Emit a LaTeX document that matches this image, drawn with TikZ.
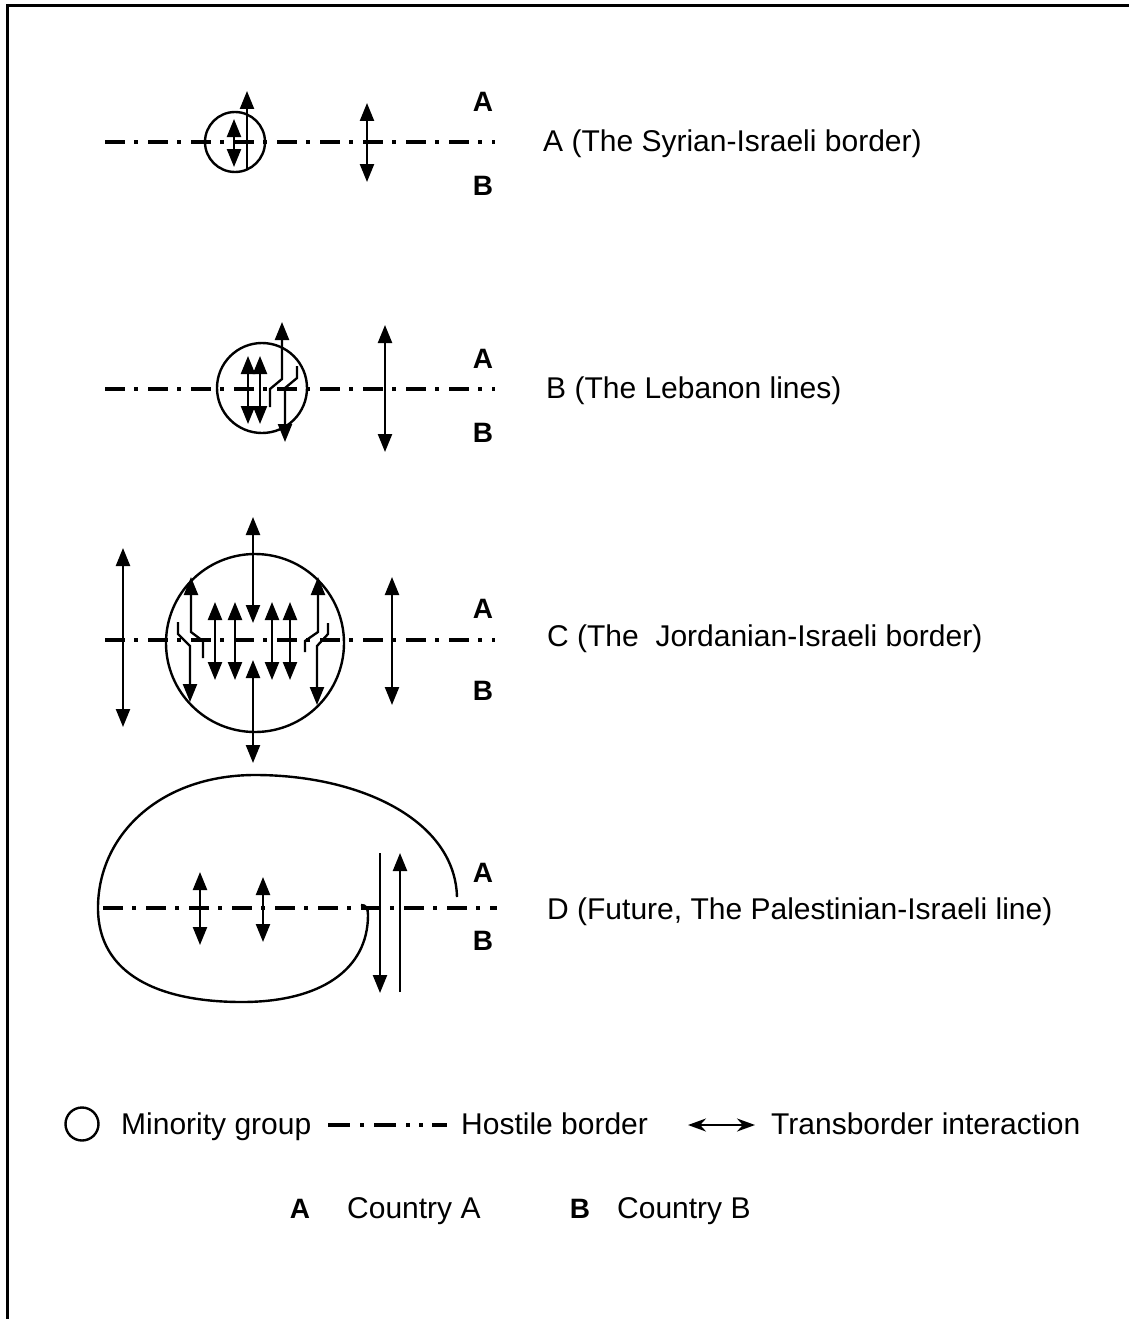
\documentclass[tikz,border=0pt]{standalone}
\usepackage{fontspec}
\setmainfont{Liberation Sans}
\usetikzlibrary{arrows.meta}
\begin{document}
\begin{tikzpicture}[x=1pt,y=-1pt,
  >={Triangle[length=18pt,width=14pt]},
  bord/.style={line width=3.6pt, dash pattern=on 20pt off 9pt on 4pt off 10pt},
  ia/.style={line width=2.3pt, <->},
  ua/.style={line width=2.3pt, ->},
  grp/.style={line width=2.4pt},
  grpnode/.style={grp, draw, circle, inner sep=0pt},
  lab/.style={font=\fontsize{30}{36}\selectfont, anchor=base west, inner sep=0pt},
  ctry/.style={font=\bfseries\fontsize{28}{32}\selectfont, anchor=base, inner sep=0pt}]
\useasboundingbox (0,0) rectangle (1129,1319);
% frame
\draw[line width=3pt] (1129,6) -- (7,6) -- (7,1319);

% ---- Section A
\draw[bord] (105,142) -- (495,142);
\node[grpnode, minimum size=60pt] (mA) at (235,142) {};
\draw[ia] (234,119) -- (234,167);
\draw[ua] (247,170) -- (247,91);
\draw[ia] (367,103) -- (367,182);
\node[ctry] (aA) at (483,112) {A};
\node[ctry] (aB) at (483,195) {B};
\node[lab] (tA) at (543,151) {A (The Syrian-Israeli border)};

% ---- Section B
\draw[bord] (105,389) -- (495,389);
\node[grpnode, minimum size=90pt] (mB) at (262,388) {};
\draw[ia] (248,356) -- (248,424);
\draw[ia] (260,356) -- (260,424);
\draw[ua] (270,407) -- (270,389) -- (282,379) -- (282,322);
\draw[ua] (297,366) -- (297,378) -- (285,388) -- (285,442);
\draw[ia] (385,325) -- (385,452);
\node[ctry] (bA) at (483,368) {A};
\node[ctry] (bB) at (483,442) {B};
\node[lab] (tB) at (546,398) {B (The Lebanon lines)};

% ---- Section C
\draw[bord] (105,640) -- (495,640);
\node[grpnode, minimum size=178pt] (mC) at (255,643) {};
\draw[ia] (123,548) -- (123,727);
\draw[ia] (253,517) -- (253,623);
\draw[ia] (253,660) -- (253,763);
\foreach \xx in {215,235,272,290} \draw[ia] (\xx,602) -- (\xx,680);
\draw[ua] (203,658) -- (203,641) -- (191,632) -- (191,577);
\draw[ua] (178,622) -- (178,634) -- (190,646) -- (190,702);
\draw[ua] (305,652) -- (305,641) -- (318,632) -- (318,577);
\draw[ua] (328,623) -- (328,634) -- (317,646) -- (317,705);
\draw[ia] (392,577) -- (392,705);
\node[ctry] (cA) at (483,618) {A};
\node[ctry] (cB) at (483,700) {B};
\node[lab] (tC) at (547,646) {C (The~ Jordanian-Israeli border)};

% ---- Section D
\draw[bord] (103,908) -- (497,908);
\draw[grp] (457,897) .. controls (455,820) and (360,775) .. (255,775)
  .. controls (160,775) and (98,835) .. (98,908)
  .. controls (98,975) and (160,1002) .. (242,1002)
  .. controls (320,1002) and (368,970) .. (368,915)
  .. controls (368,908) and (366,905) .. (361,905);
\draw[ia] (200,872) -- (200,945);
\draw[ia] (263,877) -- (263,942);
\draw[ua] (380,853) -- (380,993);
\draw[ua] (400,992) -- (400,853);
\node[ctry] (dA) at (483,882) {A};
\node[ctry] (dB) at (483,950) {B};
\node[lab] (tD) at (547,919) {D (Future, The Palestinian-Israeli line)};

% ---- Legend
\node[grp, draw, circle, inner sep=0pt, minimum width=31pt, minimum height=33pt] (lc) at (82,1124) {};
\node[lab] (l1) at (121,1134) {Minority group};
\draw[line width=3.5pt, dash pattern=on 22pt off 10pt on 4pt off 10pt on 22pt off 10pt on 4pt off 9pt on 4pt off 9pt on 15pt off 30pt] (328,1125) -- (447,1125);
\node[lab] (l2) at (461,1134) {Hostile border};
\draw[line width=2.3pt, {Stealth[length=18pt,width=13pt]}-{Stealth[length=18pt,width=13pt]}] (688,1125) -- (755,1125);
\node[lab] (l3) at (771,1134) {Transborder interaction};
\node[ctry] (lA) at (300,1218) {A};
\node[lab] (l4) at (347,1218) {Country A};
\node[ctry] (lB) at (580,1218) {B};
\node[lab] (l5) at (617,1218) {Country B};
\end{tikzpicture}
\end{document}
